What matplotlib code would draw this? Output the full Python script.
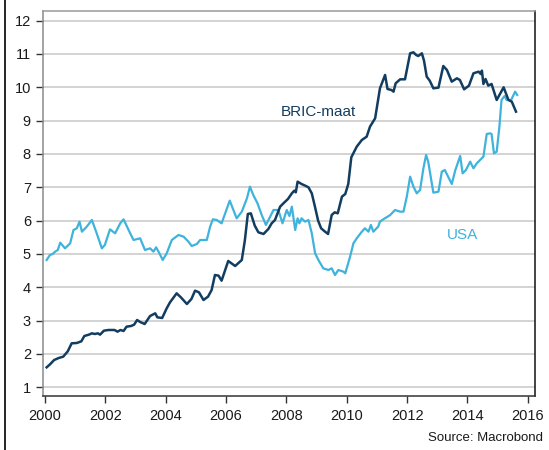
import matplotlib
matplotlib.use('Agg')
import matplotlib.pyplot as plt
from matplotlib.lines import Line2D

plt.rcParams['font.family'] = ['Liberation Sans', 'DejaVu Sans']

# BRIC-maat (decimal year, value)
bric_t = [2000.05, 2000.15, 2000.3, 2000.45, 2000.6, 2000.75, 2000.88, 2001.05, 2001.2, 2001.3,
          2001.45, 2001.55, 2001.65, 2001.75, 2001.82, 2001.95, 2002.1, 2002.3, 2002.4, 2002.5,
          2002.6, 2002.7, 2002.85, 2002.95, 2003.05, 2003.15, 2003.3, 2003.48, 2003.65, 2003.72,
          2003.88, 2004.03, 2004.14, 2004.36, 2004.5, 2004.7, 2004.85, 2004.97, 2005.1, 2005.25,
          2005.4, 2005.52, 2005.63, 2005.75, 2005.85, 2006.07, 2006.3, 2006.52, 2006.62, 2006.72,
          2006.82, 2006.95, 2007.07, 2007.24, 2007.4, 2007.51, 2007.62, 2007.79, 2007.9, 2008.05,
          2008.18, 2008.26, 2008.31, 2008.37, 2008.5, 2008.62, 2008.73, 2008.84, 2008.95, 2009.05,
          2009.15, 2009.28, 2009.38, 2009.5, 2009.6, 2009.7, 2009.84, 2009.95, 2010.05, 2010.15,
          2010.33, 2010.5, 2010.66, 2010.77, 2010.94, 2011.1, 2011.27, 2011.35, 2011.48, 2011.55,
          2011.62, 2011.77, 2011.93, 2012.1, 2012.21, 2012.3, 2012.37, 2012.49, 2012.56, 2012.65,
          2012.75, 2012.87, 2013.04, 2013.2, 2013.32, 2013.48, 2013.65, 2013.75, 2013.89, 2014.05,
          2014.2, 2014.37, 2014.44, 2014.48, 2014.53, 2014.6, 2014.69, 2014.8, 2014.97, 2015.2,
          2015.36, 2015.47, 2015.61]
bric_v = [1.60, 1.68, 1.82, 1.88, 1.92, 2.08, 2.32, 2.33, 2.38, 2.54,
          2.58, 2.62, 2.60, 2.62, 2.58, 2.70, 2.72, 2.72, 2.67, 2.72,
          2.69, 2.82, 2.84, 2.88, 3.02, 2.96, 2.90, 3.14, 3.22, 3.10,
          3.08, 3.37, 3.55, 3.82, 3.70, 3.50, 3.65, 3.90, 3.85, 3.62,
          3.72, 3.92, 4.37, 4.35, 4.20, 4.79, 4.64, 4.82, 5.40, 6.20,
          6.22, 5.85, 5.65, 5.60, 5.75, 5.92, 6.02, 6.42, 6.52, 6.65,
          6.82, 6.90, 6.85, 7.17, 7.10, 7.05, 7.00, 6.82, 6.40, 6.00,
          5.77, 5.67, 5.60, 6.17, 6.25, 6.22, 6.72, 6.80, 7.10, 7.90,
          8.22, 8.42, 8.52, 8.82, 9.07, 9.97, 10.37, 9.95, 9.92, 9.87,
          10.12, 10.24, 10.24, 11.02, 11.05, 10.97, 10.94, 11.02, 10.80, 10.32,
          10.20, 9.97, 9.99, 10.64, 10.52, 10.17, 10.27, 10.22, 9.94, 10.05,
          10.42, 10.47, 10.40, 10.50, 10.10, 10.25, 10.05, 10.10, 9.62, 10.00,
          9.62, 9.57, 9.27]

# USA (decimal year, value)
usa_t = [2000.05, 2000.16, 2000.25, 2000.33, 2000.42, 2000.5, 2000.66, 2000.83, 2000.94, 2001.05,
         2001.14, 2001.22, 2001.38, 2001.55, 2001.71, 2001.88, 2001.98, 2002.15, 2002.32, 2002.49,
         2002.6, 2002.82, 2002.93, 2003.15, 2003.31, 2003.48, 2003.59, 2003.68, 2003.76, 2003.9,
         2004.03, 2004.2, 2004.42, 2004.59, 2004.75, 2004.86, 2005.03, 2005.14, 2005.36, 2005.47,
         2005.56, 2005.69, 2005.85, 2006.12, 2006.35, 2006.52, 2006.69, 2006.79, 2006.9, 2007.04,
         2007.18, 2007.32, 2007.46, 2007.57, 2007.73, 2007.87, 2008.01, 2008.1, 2008.18, 2008.29,
         2008.37, 2008.43, 2008.5, 2008.62, 2008.73, 2008.84, 2008.95, 2009.06, 2009.22, 2009.39,
         2009.5, 2009.61, 2009.72, 2009.89, 2009.95, 2010.11, 2010.22, 2010.33, 2010.5, 2010.6,
         2010.72, 2010.8, 2010.88, 2011.04, 2011.1, 2011.21, 2011.44, 2011.6, 2011.77, 2011.88,
         2011.99, 2012.1, 2012.21, 2012.32, 2012.43, 2012.54, 2012.63, 2012.7, 2012.87, 2013.04,
         2013.15, 2013.25, 2013.48, 2013.6, 2013.76, 2013.84, 2013.95, 2014.09, 2014.2, 2014.31,
         2014.53, 2014.64, 2014.75, 2014.8, 2014.88, 2014.97, 2015.06, 2015.13, 2015.23, 2015.3,
         2015.45, 2015.58, 2015.65]
usa_v = [4.82, 4.97, 5.00, 5.07, 5.12, 5.34, 5.17, 5.32, 5.72, 5.77,
         5.97, 5.67, 5.82, 6.02, 5.62, 5.17, 5.27, 5.74, 5.62, 5.92,
         6.04, 5.62, 5.42, 5.47, 5.12, 5.17, 5.07, 5.20, 5.07, 4.82,
         5.02, 5.42, 5.57, 5.52, 5.37, 5.24, 5.30, 5.42, 5.42, 5.82,
         6.04, 6.02, 5.92, 6.60, 6.07, 6.27, 6.67, 7.02, 6.77, 6.52,
         6.17, 5.87, 6.12, 6.32, 6.32, 5.92, 6.32, 6.14, 6.42, 5.72,
         6.07, 5.92, 6.07, 5.97, 6.02, 5.62, 5.02, 4.82, 4.57, 4.52,
         4.57, 4.37, 4.52, 4.47, 4.42, 4.92, 5.32, 5.47, 5.67, 5.77,
         5.67, 5.87, 5.67, 5.82, 5.97, 6.04, 6.17, 6.32, 6.27, 6.27,
         6.72, 7.32, 7.02, 6.82, 6.92, 7.57, 7.97, 7.77, 6.84, 6.87,
         7.47, 7.52, 7.10, 7.52, 7.94, 7.42, 7.52, 7.77, 7.57, 7.72,
         7.92, 8.60, 8.62, 8.60, 8.02, 8.07, 8.82, 9.62, 9.74, 9.62,
         9.62, 9.87, 9.77]

x_ticks = list(range(2000, 2017, 2))
y_ticks = list(range(1, 13))

bric_color = '#123d60'
usa_color = '#3fb3dc'

fig = plt.figure(figsize=(5.49, 4.5), dpi=100)
ax = fig.add_axes([0.0778, 0.12, 0.8967, 0.8556])

ax.plot(usa_t, usa_v, color=usa_color, lw=1.6, zorder=3)
ax.plot(bric_t, bric_v, color=bric_color, lw=1.8, zorder=4)

ax.set_xlim(1999.92, 2016.24)
ax.set_ylim(0.74, 12.29)
ax.set_xticks(x_ticks)
ax.set_yticks(y_ticks)
ax.yaxis.grid(True, color='#c8c8c8', lw=1.1)
ax.set_axisbelow(True)
ax.tick_params(axis='both', labelsize=10.5, colors='#333333', labelcolor='#1a1a1a',
               length=5, width=1, direction='out')
ax.tick_params(axis='x', pad=4)

ax.spines['left'].set_color('#8a8a8a')
ax.spines['top'].set_color('#9a9a9a')
ax.spines['right'].set_color('#111111')
ax.spines['bottom'].set_color('#333333')
for s in ax.spines.values():
    s.set_linewidth(1.1)

ax.text(2007.82, 9.25, 'BRIC-maat', color=bric_color, fontsize=11, va='center', ha='left')
ax.text(2013.32, 5.58, 'USA', color=usa_color, fontsize=11, va='center', ha='left')

fig.text(0.989, 0.027, 'Source: Macrobond', ha='right', va='center', fontsize=9.5, color='#1a1a1a')
fig.add_artist(Line2D([5 / 549, 5 / 549], [0, 1], color='black', lw=1.2))

fig.savefig('out.png', dpi=100)
